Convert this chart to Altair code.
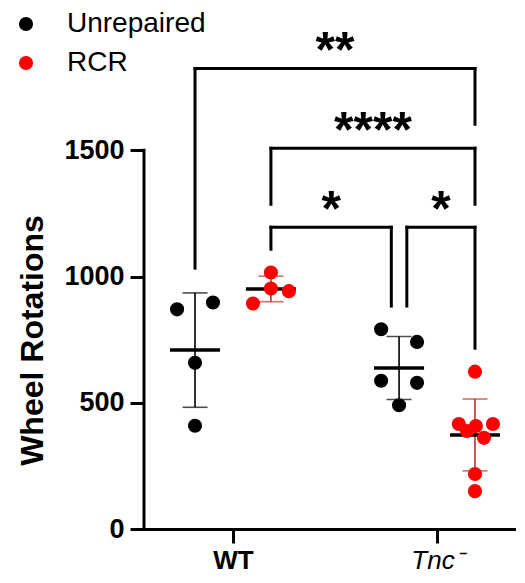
import altair as alt
import pandas as pd

# ---------------- data ----------------
GENOTYPES = ["WT", "Tnc\u207b"]
TREATMENTS = ["Unrepaired", "RCR"]
COLORS = ["#000000", "#FF0000"]
BAR_COLORS = ["#000000", "#C0302B"]

WT_UNREPAIRED = [870, 897, 658, 409]
WT_RCR = [1016, 952, 942, 893]
TNC_UNREPAIRED = [791, 741, 587, 579, 490]
TNC_RCR = [623, 416, 388, 408, 416, 361, 218, 150]

Y_TICKS = [0, 500, 1000, 1500]
Y_TITLE = "Wheel Rotations"

# significance brackets (group indices: 0 WT/Unrep, 1 WT/RCR, 2 Tnc/Unrep, 3 Tnc/RCR)
BRACKET_FROM = [0, 1, 1, 2]
BRACKET_TO = [3, 3, 2, 3]
BRACKET_Y = [1824, 1508, 1195, 1195]
BRACKET_LEFT_END = [1033, 1286, 1108, 883]
BRACKET_RIGHT_END = [1603, 1286, 883, 716]
BRACKET_LABEL = ["**", "****", "*", "*"]

# ---------------- layout (not data) ----------------
GENO_POS = [0.0, 1.0]
TREAT_SHIFT = [-0.186, 0.186]
STEP = 0.088  # one point width in x units
JITTER = [
    [-1, 1, 0, 0],
    [0, 0, 1, -1],
    [-1, 1, -1, 1, 0],
    [0, -0.9, -0.45, 0.05, 1.0, 0.5, 0, 0],
]
LEG_INSET = 0.038  # legs that meet at the same group are nudged apart

groups = [
    (0, 0, WT_UNREPAIRED),
    (0, 1, WT_RCR),
    (1, 0, TNC_UNREPAIRED),
    (1, 1, TNC_RCR),
]
centers = []
rows = []
for gi, (g, t, vals) in enumerate(groups):
    xc = GENO_POS[g] + TREAT_SHIFT[t]
    centers.append(xc)
    for v, j in zip(vals, JITTER[gi]):
        rows.append({
            "genotype": GENOTYPES[g],
            "treatment": TREATMENTS[t],
            "group": gi,
            "xc": xc,
            "x": xc + j * STEP,
            "value": v,
        })
df = pd.DataFrame(rows)

segs = []
labels = []
for f, t, y, le, re, lab in zip(BRACKET_FROM, BRACKET_TO, BRACKET_Y,
                                BRACKET_LEFT_END, BRACKET_RIGHT_END, BRACKET_LABEL):
    x1 = centers[f]
    x2 = centers[t]
    if f == 2:
        x1 += LEG_INSET
    if t == 2:
        x2 -= LEG_INSET
    segs.append({"x": x1, "x2": x2, "y": y, "y2": y})
    segs.append({"x": x1, "x2": x1, "y": y, "y2": le})
    segs.append({"x": x2, "x2": x2, "y": y, "y2": re})
    labels.append({"x": (x1 + x2) / 2, "y": y, "label": lab})
seg_df = pd.DataFrame(segs)
lab_df = pd.DataFrame(labels)

FONT = "Liberation Sans"

xscale = alt.Scale(domain=[-0.436, 1.387], nice=False, zero=False)
yscale = alt.Scale(domain=[0, 2000], nice=False, zero=True)

x_axis = alt.Axis(
    values=GENO_POS,
    labelExpr=f"datum.value == 0 ? '{GENOTYPES[0]}' : '{GENOTYPES[1]}'",
    labelFontWeight={"condition": {"test": "datum.value == 0", "value": "bold"}, "value": "normal"},
    labelFontStyle={"condition": {"test": "datum.value == 0", "value": "normal"}, "value": "italic"},
    labelFont=FONT,
    labelFontSize=26,
    labelColor="black",
    labelBaseline="alphabetic",
    labelPadding=25,
    tickSize=14,
    tickWidth=3,
    tickColor="black",
    domainWidth=3,
    domainColor="black",
    domainCap="square",
    grid=False,
    title=None,
)
y_axis = alt.Axis(
    values=Y_TICKS,
    format="d",
    labelFont=FONT,
    labelFontSize=27,
    labelFontWeight="bold",
    labelColor="black",
    labelPadding=6,
    tickSize=14,
    tickWidth=3,
    tickColor="black",
    domain=False,
    grid=False,
    title=Y_TITLE,
    titleFont=FONT,
    titleFontSize=32,
    titleFontWeight="bold",
    titleColor="black",
    titleAngle=270,
    titleAlign="center",
    titleBaseline="alphabetic",
    titleX=-102,
    titleY=316,
)

base = alt.Chart(df)

stats = base.transform_aggregate(
    mean="mean(value)", sd="stdev(value)", groupby=["treatment", "xc"]
).transform_calculate(
    lo="datum.mean - datum.sd",
    hi="datum.mean + datum.sd",
    bc=f"datum.treatment == '{TREATMENTS[1]}' ? '{BAR_COLORS[1]}' : '{BAR_COLORS[0]}'",
)

err_line = stats.mark_rule(strokeWidth=1.6).encode(
    x=alt.X("xc:Q", scale=xscale, axis=x_axis),
    y=alt.Y("lo:Q", scale=yscale, axis=y_axis),
    y2="hi:Q",
    color=alt.Color("bc:N", scale=None),
)
cap_lo = stats.mark_tick(orient="horizontal", size=25, thickness=1.6).encode(
    x=alt.X("xc:Q", scale=xscale), y=alt.Y("lo:Q", scale=yscale),
    color=alt.Color("bc:N", scale=None),
)
cap_hi = stats.mark_tick(orient="horizontal", size=25, thickness=1.6).encode(
    x=alt.X("xc:Q", scale=xscale), y=alt.Y("hi:Q", scale=yscale),
    color=alt.Color("bc:N", scale=None),
)
mean_tick = stats.mark_tick(orient="horizontal", size=50, thickness=3.5, color="black", opacity=1).encode(
    x=alt.X("xc:Q", scale=xscale), y=alt.Y("mean:Q", scale=yscale),
)

points = base.mark_point(filled=True, shape="circle", size=200, opacity=1, fillOpacity=1,
                         strokeWidth=0).encode(
    x=alt.X("x:Q", scale=xscale),
    y=alt.Y("value:Q", scale=yscale),
    color=alt.Color(
        "treatment:N",
        scale=alt.Scale(domain=TREATMENTS, range=COLORS),
        sort=TREATMENTS,
        legend=alt.Legend(
            orient="none",
            legendX=-132,
            legendY=-14,
            title=None,
            padding=0,
            symbolType="circle",
            symbolSize=200,
            symbolStrokeWidth=0,
            symbolOpacity=1,
            labelFont=FONT,
            labelFontSize=28,
            labelColor="black",
            labelOffset=27,
            rowPadding=11,
        ),
    ),
)

y_line = alt.Chart(pd.DataFrame({"lo": [min(Y_TICKS)], "hi": [max(Y_TICKS)]})).mark_rule(
    strokeWidth=3, color="black", strokeCap="square"
).encode(
    x=alt.value(0),
    y=alt.Y("lo:Q", scale=yscale),
    y2="hi:Q",
)

brackets = alt.Chart(seg_df).mark_rule(strokeWidth=3, color="black", strokeCap="square").encode(
    x=alt.X("x:Q", scale=xscale), x2="x2:Q",
    y=alt.Y("y:Q", scale=yscale), y2="y2:Q",
)
stars = alt.Chart(lab_df).mark_text(
    font=FONT, fontSize=50, fontWeight="bold", color="black",
    baseline="alphabetic", align="center", dy=-1,
).encode(
    x=alt.X("x:Q", scale=xscale),
    y=alt.Y("y:Q", scale=yscale),
    text="label:N",
)

chart = alt.layer(
    err_line, cap_lo, cap_hi, mean_tick, points, y_line, brackets, stars
).properties(
    width=372,
    height=505,
    autosize=alt.AutoSizeParams(type="none"),
    padding={"left": 136, "top": 16, "right": 0, "bottom": 46},
).configure_view(stroke=None).configure_legend(symbolOpacity=1)

chart.save("out.html", embed_options={"renderer": "svg", "actions": False})
